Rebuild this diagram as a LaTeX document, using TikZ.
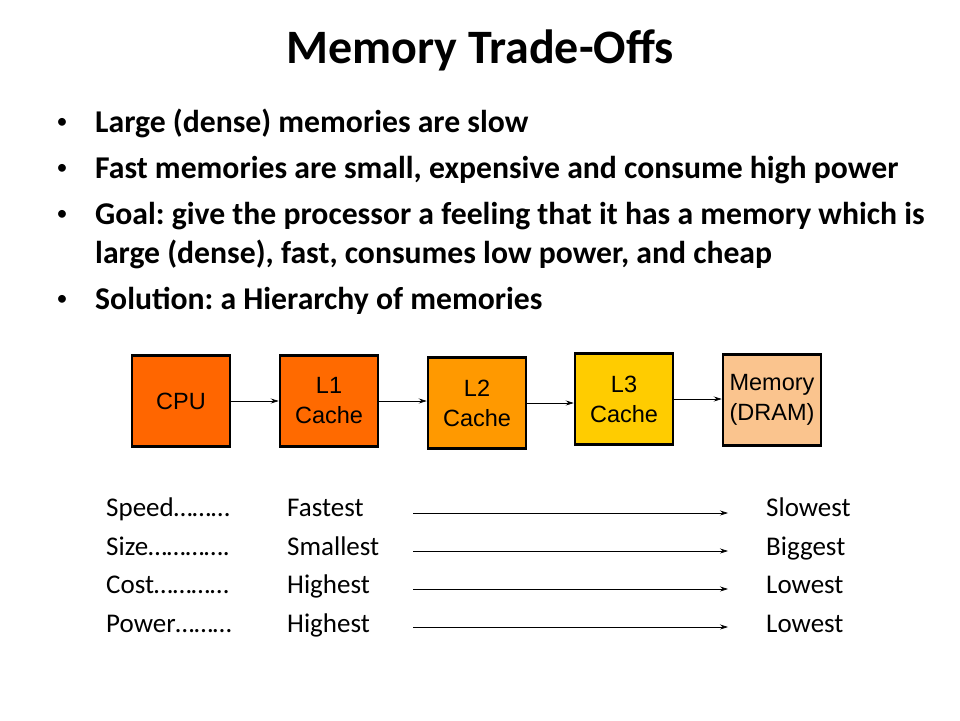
\documentclass[tikz,border=0pt]{standalone}
\usepackage{fontspec}
\setmainfont{Carlito}
\newfontfamily\boxfont{Liberation Sans}
\frenchspacing
\definecolor{CpuFill}{HTML}{FF6600}
\definecolor{LOneFill}{HTML}{FF6A00}
\definecolor{LTwoFill}{HTML}{FF9900}
\definecolor{LThreeFill}{HTML}{FFCC00}
\definecolor{DramFill}{HTML}{FAC48E}
\usetikzlibrary{arrows.meta, positioning}
\tikzset{
    memblock/.style={
        draw=black, line width=2.5pt, minimum width=98pt, minimum height=91pt,
        inner sep=0pt, align=center, font=\boxfont\fontsize{23.5}{30}\selectfont
    },
    link/.style={-{Stealth[length=8pt,width=5pt]}, line width=0.7pt},
    bullettext/.style={anchor=base west, inner sep=0pt, align=left,
        font=\bfseries\fontsize{31.7}{39}\selectfont},
    bulletdot/.style={anchor=center, inner sep=0pt,
        font=\fontsize{22}{26}\selectfont},
    rowtext/.style={anchor=base west, inner sep=0pt, font=\fontsize{27}{32}\selectfont}
}
\begin{document}
\begin{tikzpicture}[x=1pt, y=-1pt]
\useasboundingbox (0,0) rectangle (960,720);

% Titulo
\node[anchor=base, font=\bfseries\fontsize{48}{56}\selectfont] (title) at (480,63) {Memory Trade-Offs};

% Puntos
\node[bulletdot] (b1) at (62,123) {\textbullet};
\node[bullettext] (t1) at (95,132) {Large (dense) memories are slow};
\node[bulletdot] (b2) at (62,169) {\textbullet};
\node[bullettext] (t2) at (95,178) {Fast memories are small, expensive and consume high power};
\node[bulletdot] (b3) at (62,215) {\textbullet};
\node[bullettext] (t3) at (95,263) {Goal: give the processor a feeling that it has a memory which is\\large (dense), fast, consumes low power, and cheap};
\node[bulletdot] (b4) at (62,300) {\textbullet};
\node[bullettext] (t4) at (95,309) {Solution: a Hierarchy of memories};

% Jerarquia de memorias
\node[memblock, fill=CpuFill] (cpu) at (181,401) {CPU};
\node[memblock, fill=LOneFill] (lone) at (329,401) {L1\\Cache};
\node[memblock, fill=LTwoFill] (ltwo) at (477,403) {L2\\Cache};
\node[memblock, fill=LThreeFill] (lthree) at (624,399) {L3\\Cache};
\node[memblock, fill=DramFill] (dram) at (772,400) {Memory\\(DRAM)};

\draw[link] (cpu.east) -- (cpu.east -| lone.west);
\draw[link] (lone.east) -- (lone.east -| ltwo.west);
\draw[link] (ltwo.east) -- (ltwo.east -| lthree.west);
\draw[link] (lthree.east) -- (lthree.east -| dram.west);

% Tabla de comparacion
\node[rowtext] (speed) at (106,516) {Speed………};
\node[rowtext] (fastest) at (287,516) {Fastest};
\node[rowtext] (slowest) at (766,516) {Slowest};
\node[rowtext] (size) at (106,555) {Size………….};
\node[rowtext] (smallest) at (287,555) {Smallest};
\node[rowtext] (biggest) at (766,555) {Biggest};
\node[rowtext] (cost) at (106,593) {Cost…………};
\node[rowtext] (costhigh) at (287,593) {Highest};
\node[rowtext] (costlow) at (766,593) {Lowest};
\node[rowtext] (power) at (106,632) {Power………};
\node[rowtext] (powerhigh) at (287,632) {Highest};
\node[rowtext] (powerlow) at (766,632) {Lowest};

\coordinate (sa) at (413,513);
\coordinate (sb) at (728,513);
\coordinate (za) at (413,551);
\coordinate (zb) at (728,551);
\coordinate (ca) at (413,589);
\coordinate (cb) at (728,589);
\coordinate (pa) at (413,627);
\coordinate (pb) at (728,627);
\draw[link] (sa) -- (sb);
\draw[link] (za) -- (zb);
\draw[link] (ca) -- (cb);
\draw[link] (pa) -- (pb);

\end{tikzpicture}
\end{document}
